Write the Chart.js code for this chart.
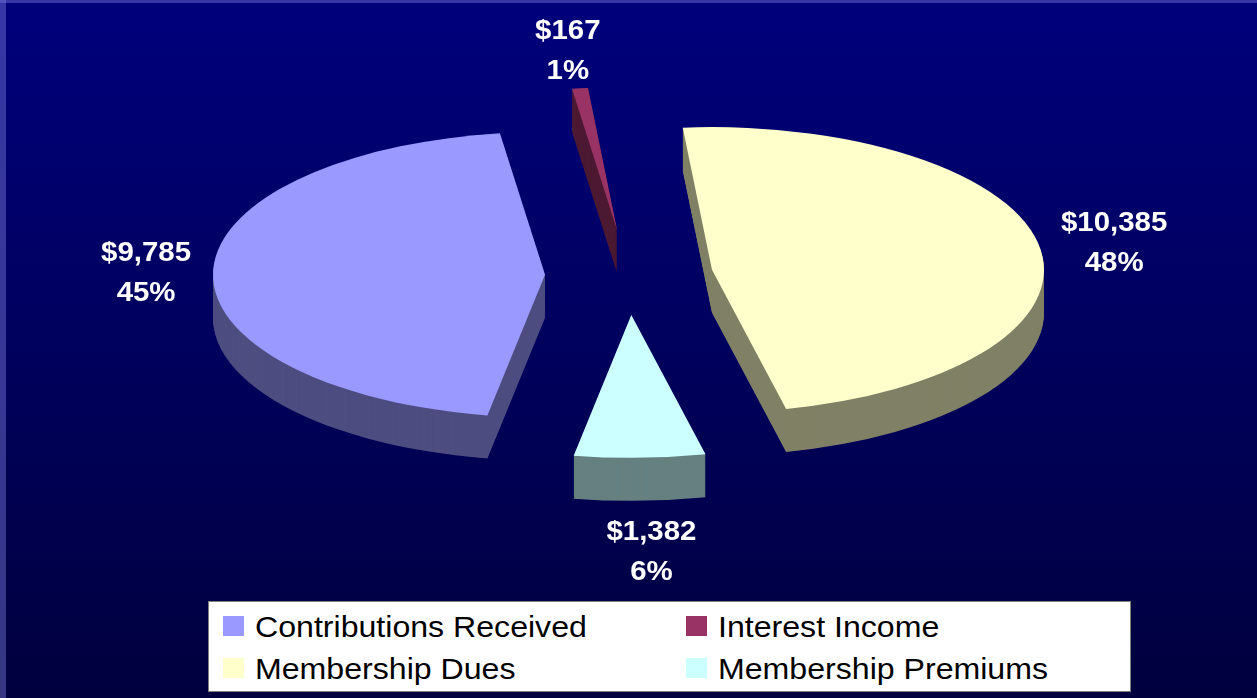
<!DOCTYPE html>
<html>
<head>
<meta charset="utf-8">
<script src="https://cdn.jsdelivr.net/npm/chart.js@4.4.1/dist/chart.umd.min.js"></script>
<style>
  html, body { margin: 0; padding: 0; background: #000050; }
  #wrap { position: relative; width: 1257px; height: 698px; overflow: hidden; }
  #legend {
    position: absolute; left: 208px; top: 601px; width: 921px; height: 89px;
    background: #fff; border: 1px solid #7d7d7d;
    font-family: "Liberation Sans", Arial, sans-serif; font-size: 30px; color: #000;
  }
  .sw { position: absolute; width: 21px; height: 20px; }
  .lt { position: absolute; line-height: 30px; white-space: nowrap; transform: scaleX(1.07); transform-origin: left center; }
</style>
</head>
<body>
<div id="wrap">
  <canvas id="pie"></canvas>
  <div id="legend"></div>
</div>
<script>
const categories = ['Contributions Received', 'Interest Income', 'Membership Dues', 'Membership Premiums'];
const amounts    = [9785, 167, 10385, 1382];
const topColors  = ['#9999ff', '#993366', '#ffffcc', '#ccffff'];
const sideColors = ['#4d4d80', '#4d1a33', '#808066', '#668080'];
const explode    = [84, 106, 84, 92];

const TILT  = 0.43;   // vertical squash of the pie
const DEPTH = 43;     // thickness in px
const GAP   = 22;     // label distance past the rim
const total = amounts.reduce((s, v) => s + v, 0);

const fmt = v => '$' + v.toLocaleString('en-US');
const pct = v => Math.round(v / total * 100) + '%';

// legend, two columns
const legend = document.getElementById('legend');
categories.forEach((name, i) => {
  const col = i % 2, row = Math.floor(i / 2);
  const x = col ? 477 : 14, y = row ? 56 : 14;
  legend.insertAdjacentHTML('beforeend',
    `<div class="sw" style="left:${x}px; top:${y}px; background:${topColors[i]}"></div>
     <div class="lt" style="left:${x + 32}px; top:${y - 4}px">${name}</div>`);
});

const pie3d = {
  id: 'pie3d',
  beforeDraw(chart) {
    const { ctx, width, height } = chart;
    const g = ctx.createLinearGradient(0, 0, 0, height);
    g.addColorStop(0, '#00007c');
    g.addColorStop(1, '#00003e');
    ctx.save();
    ctx.fillStyle = g;
    ctx.fillRect(0, 0, width, height);
    ctx.fillStyle = 'rgba(120,120,220,0.45)';
    ctx.fillRect(0, 0, width, 3);
    ctx.fillRect(0, 0, 6, height);
    ctx.restore();
  },
  beforeDatasetsDraw(chart) {
    const ctx = chart.ctx;
    const pieces = chart.getDatasetMeta(0).data.map((a, i) => {
      const mid = (a.startAngle + a.endAngle) / 2;
      const off = a.options.offset || 0;
      return { a, i, mid, x: a.x + Math.cos(mid) * off, y: a.y + Math.sin(mid) * off * TILT };
    });
    pieces.sort((p, q) => p.y - q.y);

    const sector = (p, dy) => {
      const r = p.a.outerRadius;
      ctx.beginPath();
      ctx.moveTo(p.x, p.y + dy);
      ctx.ellipse(p.x, p.y + dy, r, r * TILT, 0, p.a.startAngle, p.a.endAngle);
      ctx.closePath();
    };

    ctx.save();
    pieces.forEach(p => {
      // side walls: stack the face downwards
      ctx.fillStyle = sideColors[p.i];
      for (let d = DEPTH; d > 0; d--) { sector(p, d); ctx.fill(); }
      // top face
      ctx.fillStyle = topColors[p.i];
      sector(p, 0);
      ctx.fill();
    });
    ctx.restore();

    // data labels
    ctx.save();
    ctx.font = 'bold 27.5px "Liberation Sans", Arial, sans-serif';
    ctx.fillStyle = '#ffffff';
    ctx.textAlign = 'center';
    ctx.textBaseline = 'alphabetic';
    const SX = 1.07, LINE = 40, CAP = 0.716 * 27.5;
    pieces.forEach(p => {
      const r = p.a.outerRadius + GAP;
      const c = Math.cos(p.mid), s = Math.sin(p.mid);
      const lines = [fmt(amounts[p.i]), pct(amounts[p.i])];
      const w = Math.max(...lines.map(t => ctx.measureText(t).width)) * SX;
      const h = LINE + 20;
      const ax = p.x + c * r;
      const ay = p.y + s * r * TILT + (s > 0 ? (DEPTH + 10) * s : 0);
      let nudge = 0;
      if (Math.abs(c) < 0.5) nudge = s > 0 ? 10 : -6;
      const cx = ax + c * w / 2 + nudge;
      const cy = ay + s * h / 2;
      lines.forEach((t, k) => {
        ctx.save();
        ctx.translate(cx, cy + (k ? LINE / 2 : -LINE / 2) + CAP / 2);
        ctx.scale(SX, 1);
        ctx.fillText(t, 0, 0);
        ctx.restore();
      });
    });
    ctx.restore();
    return false;
  }
};

new Chart(document.getElementById('pie'), {
  type: 'pie',
  data: {
    labels: categories,
    datasets: [{
      data: amounts,
      backgroundColor: topColors,
      offset: explode,
      borderWidth: 0
    }]
  },
  options: {
    responsive: true,
    maintainAspectRatio: false,
    animation: false,
    events: [],
    rotation: 190,
    radius: 332,
    layout: { padding: { left: 1, right: 0, top: 0, bottom: 147 } },
    plugins: { legend: { display: false }, tooltip: { enabled: false } }
  },
  plugins: [pie3d]
});
</script>
</body>
</html>
